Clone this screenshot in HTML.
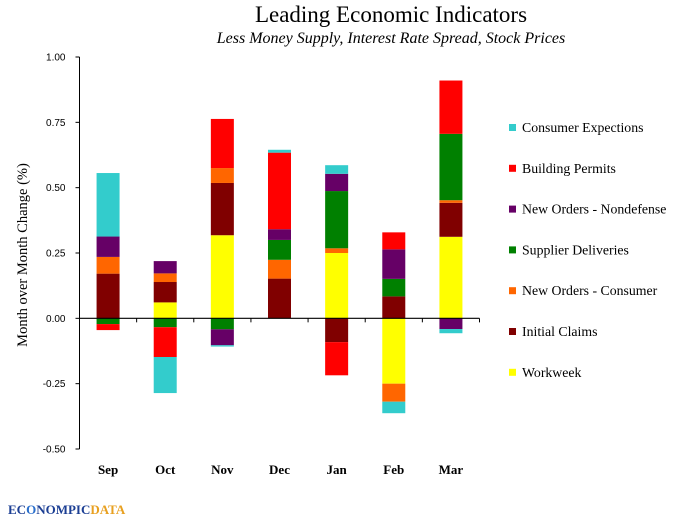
<!DOCTYPE html>
<html><head><meta charset="utf-8"><style>
body{margin:0;background:#fff;}
svg{display:block;font-family:"Liberation Serif",serif;}
</style></head><body>
<svg id="c" width="696" height="522" xmlns="http://www.w3.org/2000/svg">
<text x="391" y="22" text-anchor="middle" font-size="23">Leading Economic Indicators</text>
<text x="391" y="43" text-anchor="middle" font-size="16" font-style="italic">Less Money Supply, Interest Rate Spread, Stock Prices</text>
<text transform="translate(27,255) rotate(-90)" text-anchor="middle" font-size="14.5">Month over Month Change (%)</text>
<g id="plot"></g>
<g id="legend"></g>
<g>
<text x="8" y="514" font-size="13" font-weight="bold" fill="#1c3f94">EC<tspan fill="#2a6fcc">O</tspan>NOMPIC<tspan fill="#e8a020">DATA</tspan></text>
</g>
</svg>
<script>
const categories=["Sep","Oct","Nov","Dec","Jan","Feb","Mar"];
const seriesNames=["Workweek","Initial Claims","New Orders - Consumer","Supplier Deliveries","New Orders - Nondefense","Building Permits","Consumer Expections"];
const seriesColors=["#ffff00","#800000","#ff6600","#008000","#660066","#ff0000","#33cccc"];
const workweek=[0,0.061,0.318,0,0.25,-0.25,0.312];
const initialClaims=[0.171,0.078,0.2,0.152,-0.091,0.084,0.13];
const newOrdersConsumer=[0.064,0.033,0.057,0.072,0.018,-0.069,0.01];
const supplierDeliveries=[-0.022,-0.034,-0.042,0.076,0.219,0.067,0.254];
const newOrdersNondefense=[0.078,0.047,-0.061,0.041,0.066,0.113,-0.041];
const buildingPermits=[-0.023,-0.114,0.188,0.293,-0.127,0.065,0.204];
const consumerExpectations=[0.243,-0.138,-0.005,0.011,0.033,-0.044,-0.016];
const yTicks=[1.00,0.75,0.50,0.25,0.00,-0.25,-0.50];
const series=[workweek,initialClaims,newOrdersConsumer,supplierDeliveries,newOrdersNondefense,buildingPermits,consumerExpectations];
const NS="http://www.w3.org/2000/svg";
const L=79.5,R=479.5,T=57,B=449,ymax=1,ymin=-0.5;
const y=v=>T+(ymax-v)/(ymax-ymin)*(B-T);
const step=(R-L)/categories.length;
const x=i=>L+step*(i+0.5);
const bw=23;
const plot=document.getElementById('plot');
function mk(tag,attrs,parent){const e=document.createElementNS(NS,tag);for(const k in attrs)e.setAttribute(k,attrs[k]);parent.appendChild(e);return e;}
let ax=mk('line',{x1:L,y1:T,x2:L,y2:B,stroke:'#000','stroke-width':1},plot);


yTicks.forEach(t=>{
  const tk=mk('line',{x1:L-4,y1:y(t),x2:L,y2:y(t),stroke:'#000'},plot);
  
  
  const tl=mk('text',{x:L-14,y:y(t)+3.5,'text-anchor':'end','font-size':10,'font-family':'Liberation Sans, sans-serif'},plot);
  tl.textContent=t.toFixed(2);
  
  
});
categories.forEach((c,i)=>{
  let pos=0,neg=0;
  series.forEach((s,j)=>{
    const v=s[i];if(!v)return;
    let a,b;
    if(v>0){a=pos;b=pos+v;pos=b;}else{a=neg;b=neg+v;neg=b;}
    const r=mk('rect',{x:x(i)-bw/2,y:Math.min(y(a),y(b)),width:bw,height:Math.abs(y(a)-y(b)),fill:seriesColors[j]},plot);
    
    
  });
  const xl=mk('text',{x:x(i),y:474,'text-anchor':'middle','font-size':13,'font-weight':'bold'},plot);
  xl.textContent=c;
  
  
});
const xa=mk('line',{x1:L,y1:y(0),x2:R,y2:y(0),stroke:'#000','stroke-width':1.2},plot);


for(let i=0;i<=categories.length;i++){
  const tk=mk('line',{x1:L+step*i,y1:y(0),x2:L+step*i,y2:y(0)+4,stroke:'#000'},plot);
  
  
}
const lg=document.getElementById('legend');


for(let k=0;k<seriesNames.length;k++){
  const j=seriesNames.length-1-k;
  const ly=128+k*40.8;
  const g=mk('g',{},lg);
  
  
  mk('rect',{x:509,y:ly-4,width:7,height:7,fill:seriesColors[j]},g);
  const t=mk('text',{x:522,y:ly+4,'font-size':13.8},g);
  t.textContent=seriesNames[j];
}
</script>
</body></html>
